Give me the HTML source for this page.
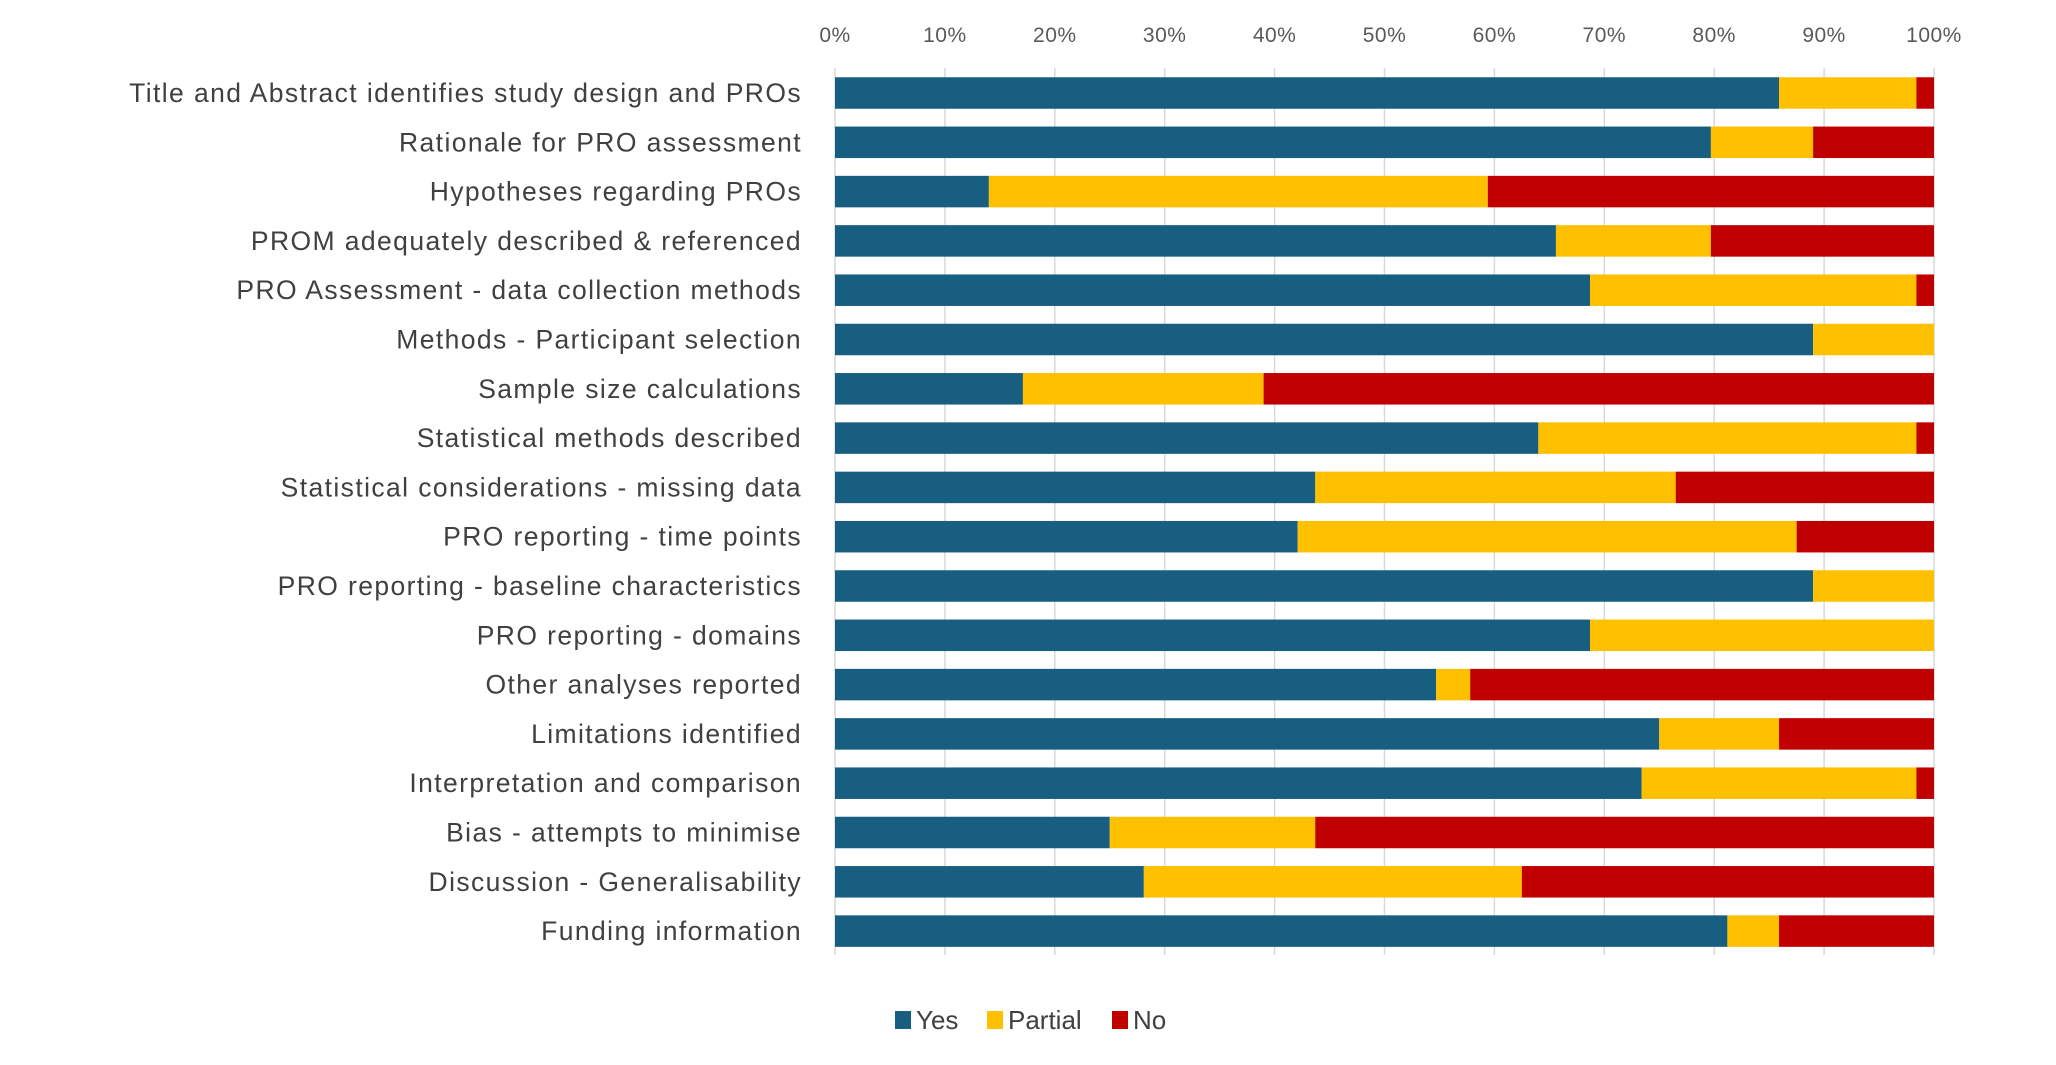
<!DOCTYPE html>
<html><head><meta charset="utf-8"><style>
html,body{margin:0;padding:0;background:#fff;}
svg{display:block;font-family:"Liberation Sans",sans-serif;}
</style></head><body>
<svg id="chart" width="2056" height="1065" viewBox="0 0 2056 1065" xmlns="http://www.w3.org/2000/svg"></svg>
<script>
const categories = ["Title and Abstract identifies study design and PROs","Rationale for PRO assessment","Hypotheses regarding PROs","PROM adequately described  & referenced","PRO Assessment - data collection methods","Methods - Participant selection","Sample size calculations","Statistical methods described","Statistical considerations - missing data","PRO reporting - time points","PRO reporting - baseline characteristics","PRO reporting - domains","Other analyses reported","Limitations identified","Interpretation and comparison","Bias - attempts to minimise","Discussion - Generalisability","Funding information"];
const yesValues = [85.9,79.7,14.0,65.6,68.7,89.0,17.1,64.0,43.7,42.1,89.0,68.7,54.7,75.0,73.4,25.0,28.1,81.2];
const partialValues = [12.5,9.3,45.4,14.1,29.7,11.0,21.9,34.4,32.8,45.4,11.0,31.3,3.1,10.9,25.0,18.7,34.4,4.7];
const noValues = [1.6,11.0,40.6,20.3,1.6,0,61.0,1.6,23.5,12.5,0,0,42.2,14.1,1.6,56.3,37.5,14.1];
const tickValues = [0,10,20,30,40,50,60,70,80,90,100];
const tickLabels = ["0%","10%","20%","30%","40%","50%","60%","70%","80%","90%","100%"];
const seriesNames = ["Yes","Partial","No"];
const seriesColors = ["#175E80","#FFC000","#C00000"];

const NS="http://www.w3.org/2000/svg";
const svg=document.getElementById('chart');
const x0=835, x1=1934, yTop=68, yBot=955, rowStart=93, rowPitch=49.3, barH=31.5;
function xScale(v){return x0+(x1-x0)*v/100;}
function yScale(i){return rowStart+i*rowPitch;}
function mk(tag,attrs){const e=document.createElementNS(NS,tag);for(const k in attrs)e.setAttribute(k,attrs[k]);svg.appendChild(e);return e;}

tickValues.forEach((t,i)=>{
  const g=mk('line',{x1:xScale(t),x2:xScale(t),y1:yTop,y2:yBot,stroke:'#d9d9d9','stroke-width':1.5});
  
  
  const l=mk('text',{x:xScale(t),y:42,'text-anchor':'middle','font-size':21,fill:'#595959','letter-spacing':0.5});
  l.textContent=tickLabels[i];
  
  
});

const series=[yesValues,partialValues,noValues];
categories.forEach((c,i)=>{
  const cy=yScale(i);
  const t=mk('text',{x:802,y:cy+9,'text-anchor':'end','font-size':26.5,fill:'#404040','letter-spacing':1.4});
  t.textContent=c;
  
  
  let acc=0;
  series.forEach((s,k)=>{
    const v=s[i];
    if(v>0){
      const r=mk('rect',{x:xScale(acc),y:cy-barH/2,width:xScale(acc+v)-xScale(acc),height:barH,fill:seriesColors[k]});
      
      
    }
    acc+=v;
  });
});

const legendX=[895,987,1112];
seriesNames.forEach((n,k)=>{
  const r=mk('rect',{x:legendX[k],y:1011,width:16,height:18,fill:seriesColors[k]});
  
  
  const t=mk('text',{x:legendX[k]+21,y:1029,'font-size':26,fill:'#404040'});
  t.textContent=n;
  
  
});
</script>
</body></html>
